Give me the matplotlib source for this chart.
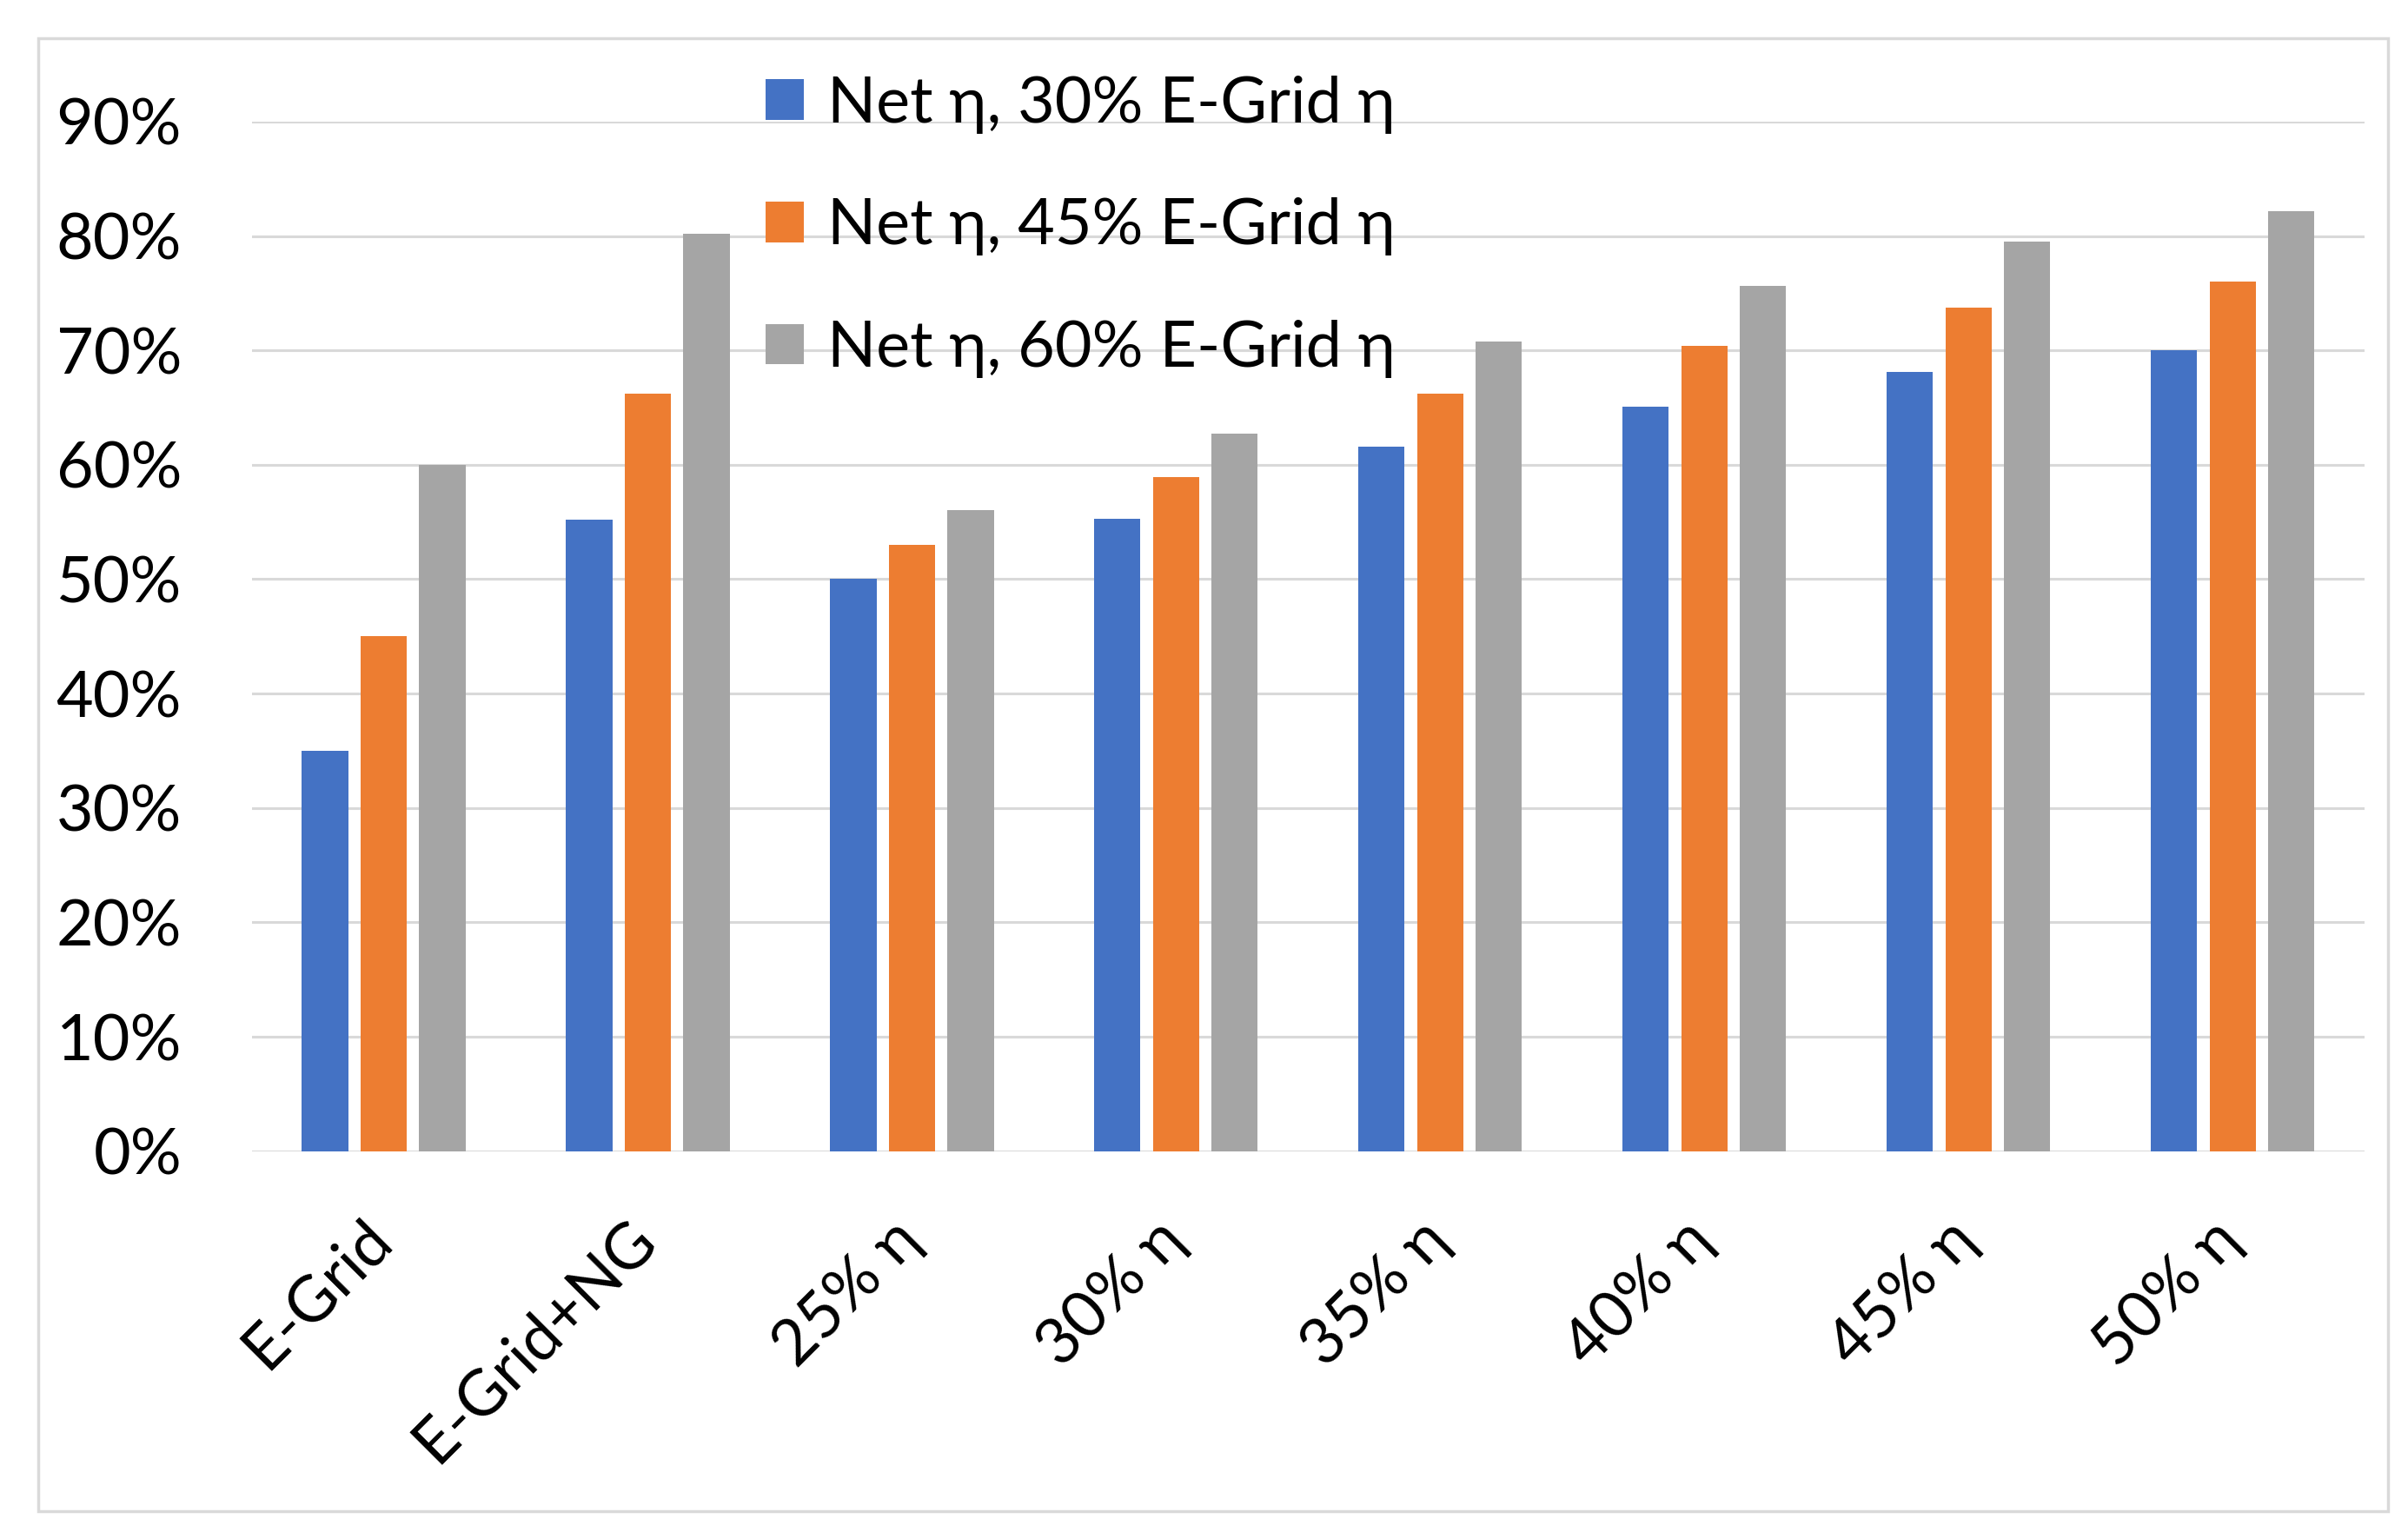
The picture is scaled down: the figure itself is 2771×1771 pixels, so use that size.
import matplotlib
matplotlib.use("Agg")
import matplotlib.pyplot as plt
from matplotlib.patches import Rectangle
import matplotlib.transforms as mtransforms
import numpy as np

categories = ["E-Grid", "E-Grid+NG", "25% η", "30% η", "35% η", "40% η", "45% η", "50% η"]
series_names = ["Net η, 30% E-Grid η", "Net η, 45% E-Grid η", "Net η, 60% E-Grid η"]
net_30 = [35.0, 55.2, 50.0, 55.3, 61.6, 65.1, 68.1, 70.0]
net_45 = [45.0, 66.2, 53.0, 58.9, 66.2, 70.4, 73.7, 76.0]
net_60 = [60.0, 80.2, 56.0, 62.7, 70.8, 75.6, 79.5, 82.2]
yticks = [0, 10, 20, 30, 40, 50, 60, 70, 80, 90]
colors = ["#4472C4", "#ED7D31", "#A5A5A5"]

plt.rcParams['font.family'] = ['Lato', 'DejaVu Sans']

fig = plt.figure(figsize=(27.71, 17.71), dpi=100)
fig.patch.set_facecolor("white")
# outer border
fig.add_artist(Rectangle((0.016, 0.018), 0.9757, 0.957, transform=fig.transFigure,
                         fill=False, edgecolor="#d9d9d9", linewidth=2.5))

ax = fig.add_axes([0.1045, 0.252, 0.982 - 0.1045, 0.921 - 0.252])
x = np.arange(len(categories))
step = 0.222
width = 0.175
for i, (vals, c, name) in enumerate(zip([net_30, net_45, net_60], colors, series_names)):
    ax.bar(x + (i - 1) * step, vals, width=width, color=c, label=name, zorder=3)

ax.set_xlim(-0.5, len(categories) - 0.5)
ax.set_ylim(0, 90)
ax.set_yticks(yticks)
ax.set_yticklabels([f"{v}%" for v in yticks])
ax.yaxis.grid(True, color="#d9d9d9", linewidth=2.2, zorder=0)
ax.set_axisbelow(True)
for s in ax.spines.values():
    s.set_visible(False)
ax.tick_params(axis='y', length=0, pad=58, labelsize=53)
ax.set_xticks(x)
ax.set_xticklabels(categories, rotation=45, ha='right', rotation_mode='default')
ax.tick_params(axis='x', length=0, pad=48, labelsize=53)
offset = mtransforms.ScaledTranslation(22 / 100, 0, fig.dpi_scale_trans)
for lbl in ax.get_xticklabels():
    lbl.set_transform(lbl.get_transform() + offset)

leg = fig.legend(loc='upper left', bbox_to_anchor=(0.318, 0.951), frameon=False,
                 fontsize=53, handlelength=0.6, handleheight=0.6, handletextpad=0.36,
                 labelspacing=1.0, borderpad=0, borderaxespad=0)

fig.savefig("out.png", dpi=100, facecolor="white")
